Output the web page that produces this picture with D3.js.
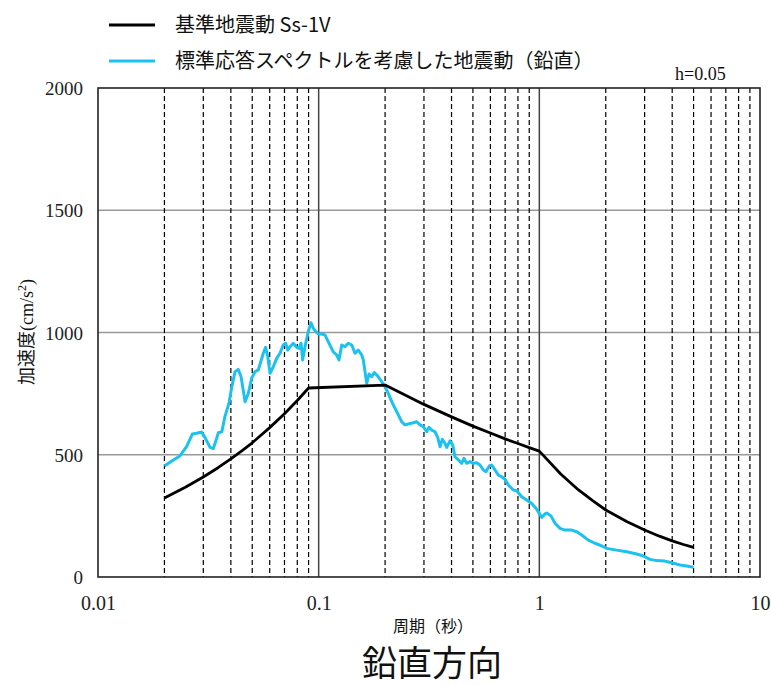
<!DOCTYPE html>
<html><head><meta charset="utf-8">
<script src="https://cdn.jsdelivr.net/npm/d3@7"></script>
<style>body{margin:0;background:#fff}</style>
</head><body><svg id="c" width="771" height="686"></svg>
<script>
// ---- data ----
const periodSs = [0.02,0.025,0.03,0.035,0.04,0.045,0.05,0.06,0.07,0.08,0.09,0.2,0.3,0.4,0.5,0.6,0.7,0.8,0.9,1.0,1.25,1.5,1.75,2,2.5,3,3.5,4,4.5,5];
const accSs    = [323,368,409,447,483,517,549,611,668,722,773,785,706,655,617,589,565,546,529,515,421,357,311,274,226,192,167,148,133,121];

const periodStd = [0.0200,0.0216,0.0235,0.0252,0.0268,0.0280,0.0295,0.0305,0.0322,0.0333,0.0343,0.0351,0.0364,0.0376,0.0392,0.0404,0.0418,0.0432,0.0445,0.0464,0.0480,0.0497,0.0515,0.0533,0.0561,0.0575,0.0588,0.0602,0.0623,0.0645,0.0668,0.0691,0.0709,0.0724,0.0742,0.0767,0.0795,0.0815,0.0832,0.0846,0.0867,0.0897,0.0923,0.0946,0.0972,0.0996,0.1032,0.1068,0.1106,0.1165,0.1207,0.1236,0.1272,0.1316,0.1362,0.1412,0.1461,0.1512,0.1567,0.1593,0.1622,0.1651,0.1691,0.1739,0.1787,0.1852,0.1930,0.1998,0.2068,0.2143,0.2218,0.2296,0.2378,0.2461,0.2548,0.2685,0.2782,0.2879,0.2980,0.3087,0.3162,0.3252,0.3367,0.3463,0.3547,0.3633,0.3737,0.3804,0.3937,0.4050,0.4148,0.4293,0.4448,0.4556,0.4687,0.4851,0.5021,0.5202,0.5384,0.5573,0.5732,0.5933,0.6083,0.6296,0.6516,0.6751,0.6989,0.7235,0.7621,0.7896,0.8320,0.8764,0.9234,0.9658,1.000,1.025,1.061,1.080,1.129,1.178,1.241,1.307,1.402,1.477,1.556,1.667,1.787,1.917,2.020,2.242,2.489,2.762,2.959,3.173,3.402,3.711,3.979,4.340,4.654,5.0];
const accStd    = [454,474,495,533,585,588,593,571,530,525,560,590,594,656,710,778,840,849,819,717,751,813,840,847,915,939,901,833,860,894,915,949,956,928,942,956,939,935,956,888,942,1003,1040,1017,1003,994,994,990,962,921,908,888,949,942,956,949,915,928,908,888,840,792,830,819,836,822,799,778,751,717,690,663,635,622,626,631,635,622,615,594,612,601,594,571,533,563,547,530,557,540,492,479,465,485,465,472,465,467,458,438,431,454,458,438,417,410,400,376,356,353,328,315,301,281,260,244,258,262,250,220,199,192,192,185,172,151,138,127,117,110,103,94,86,72,67,65,58,49,45,40];

const xTickLabels = [0.01,0.1,1,10];
const yTickValues = [0,500,1000,1500,2000];
const solidVerticals = [0.1,1];
const dashedVerticals = [0.02,0.03,0.04,0.05,0.06,0.07,0.08,0.09,0.2,0.3,0.4,0.5,0.6,0.7,0.8,0.9,2,3,4,5,6,7,8,9];
const seriesNames = ["基準地震動 Ss-1V","標準応答スペクトルを考慮した地震動（鉛直）"];
const seriesColors = ["#000000","#1cc2ef"];

// ---- layout ----
const svg = d3.select("#c");
const L = 98, R = 760, T = 88, B = 577;
const x = d3.scaleLog().domain([0.01,10]).range([L,R]);
const y = d3.scaleLinear().domain([0,2000]).range([B,T]);
const serif = "'Liberation Serif','Times New Roman',serif";
const cjk = "'Noto Sans CJK JP','Noto Sans',sans-serif";

// horizontal gridlines
svg.append("g").selectAll("line").data(yTickValues.filter(v=>v>0&&v<2000)).join("line")
  .attr("x1",L).attr("x2",R).attr("y1",d=>y(d)).attr("y2",d=>y(d))
  .attr("stroke","#999").attr("stroke-width",1.5);

// dashed verticals
svg.append("g").selectAll("line").data(dashedVerticals).join("line")
  .attr("x1",d=>x(d)).attr("x2",d=>x(d)).attr("y1",T).attr("y2",B)
  .attr("stroke","#000").attr("stroke-width",1.2).attr("stroke-dasharray","5,3");

// solid verticals
svg.append("g").selectAll("line").data(solidVerticals).join("line")
  .attr("x1",d=>x(d)).attr("x2",d=>x(d)).attr("y1",T).attr("y2",B)
  .attr("stroke","#444").attr("stroke-width",1.5);

// frame
svg.append("rect").attr("x",L).attr("y",T).attr("width",R-L).attr("height",B-T)
  .attr("fill","none").attr("stroke","#222").attr("stroke-width",1.6);

// axes labels via d3 axes (no tick lines)
const xAxis = d3.axisBottom(x).tickValues(xTickLabels).tickFormat(d=>String(d)).tickSize(0).tickPadding(0);
const gx = svg.append("g").attr("transform",`translate(0,${B})`).call(xAxis);
gx.select(".domain").remove();
gx.selectAll("text").attr("font-family",serif).attr("font-size",20).attr("fill","#222")
  .attr("dy",null).attr("y",33);

const yAxis = d3.axisLeft(y).tickValues(yTickValues).tickFormat(d3.format("d")).tickSize(0).tickPadding(0);
const gy = svg.append("g").attr("transform",`translate(${L},0)`).call(yAxis);
gy.select(".domain").remove();
gy.selectAll("text").attr("font-family",serif).attr("font-size",19).attr("fill","#222")
  .attr("x",-15).attr("dy","0.35em");

// series lines
const line = d3.line().x(d=>x(d[0])).y(d=>y(d[1]));
const ssPts = periodSs.map((p,i)=>[p,accSs[i]]);
const stdPts = periodStd.map((p,i)=>[p,accStd[i]]);
svg.append("path").datum(stdPts).attr("d",line).attr("fill","none")
  .attr("stroke",seriesColors[1]).attr("stroke-width",3).attr("stroke-linejoin","round");
svg.append("path").datum(ssPts).attr("d",line).attr("fill","none")
  .attr("stroke",seriesColors[0]).attr("stroke-width",2.8).attr("stroke-linejoin","round");

// legend
const legY = [25,61];
seriesNames.forEach((n,i)=>{
  svg.append("line").attr("x1",109).attr("x2",155).attr("y1",legY[i]).attr("y2",legY[i])
    .attr("stroke",seriesColors[i]).attr("stroke-width",3);
  svg.append("text").attr("x",175).attr("y",legY[i]).attr("dy","0.36em")
    .attr("font-family",cjk).attr("font-size",20).attr("fill","#111").text(n);
});

// h=0.05
svg.append("text").attr("x",675).attr("y",80).attr("font-family",serif).attr("font-size",18)
  .attr("fill","#111").text("h=0.05");

// y title
const yt = svg.append("text").attr("transform","translate(33,332) rotate(-90)")
  .attr("text-anchor","middle").attr("font-size",18).attr("fill","#111");
yt.append("tspan").attr("font-family",cjk).text("加速度");
yt.append("tspan").attr("font-family",serif).text("(cm/s");
yt.append("tspan").attr("font-family",serif).attr("font-size",12).attr("baseline-shift","super").text("2");
yt.append("tspan").attr("font-family",serif).text(")");

// x title
svg.append("text").attr("x",433).attr("y",632).attr("text-anchor","middle")
  .attr("font-family",cjk).attr("font-size",16).attr("fill","#111").text("周期（秒）");

// main title
svg.append("text").attr("x",432).attr("y",676).attr("text-anchor","middle")
  .attr("font-family",cjk).attr("font-size",35).attr("fill","#111").text("鉛直方向");
</script>
</body></html>
